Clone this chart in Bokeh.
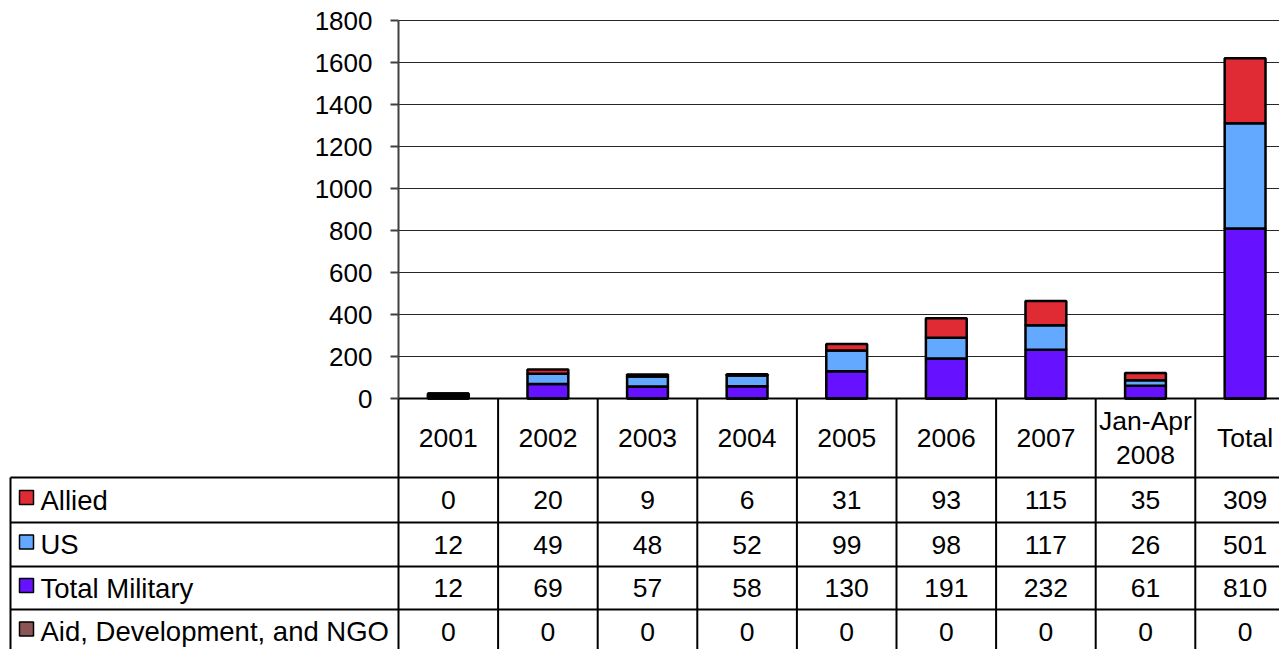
from bokeh.plotting import figure
from bokeh.models import Range1d, LinearAxis, FixedTicker, ColumnDataSource
from bokeh.core.properties import value
from bokeh.embed import file_html
from bokeh.resources import INLINE

# ---- data ----
categories = ["2001", "2002", "2003", "2004", "2005", "2006", "2007", "Jan-Apr\n2008", "Total"]
allied = [0, 20, 9, 6, 31, 93, 115, 35, 309]
us = [12, 49, 48, 52, 99, 98, 117, 26, 501]
total_military = [12, 69, 57, 58, 130, 191, 232, 61, 810]
aid = [0, 0, 0, 0, 0, 0, 0, 0, 0]
series_names = ["Allied", "US", "Total Military", "Aid, Development, and NGO"]
y_ticks = [0, 200, 400, 600, 800, 1000, 1200, 1400, 1600, 1800]

colors = {"Allied": "#E02B35", "US": "#63A9FF", "Total Military": "#6611FF",
          "Aid, Development, and NGO": "#8C5555"}

FONT = value("Liberation Sans")

# ---- layout constants (canvas pixels) ----
W, H = 1279, 649
CW = 99.6          # category width in px
AX = 398           # px of the value axis / first category boundary
TOP = 20           # px of the 1800 gridline
BASE = 398         # px of the zero line
YMAX = 1800
K = YMAX / (BASE - TOP)   # data units per px
HDR_BOT = 477
ROW_LINES = [477, 522, 566, 609, 653]
TBL_LEFT = 10


def X(px):
    return (px - AX) / CW


def Y(py):
    return (BASE - py) * K


n = len(categories)
xs = [i + 0.5 for i in range(n)]

p = figure(width=W, height=H,
           x_range=Range1d(X(0), X(W)), y_range=Range1d(Y(H), Y(0)),
           x_axis_type=None, y_axis_type=None,
           output_backend="svg", toolbar_location=None, min_border=0)
p.outline_line_color = None
p.background_fill_color = "white"
p.border_fill_color = "white"

# gridlines (only over the plot area)
gt = y_ticks[1:]
p.segment(x0=[0] * len(gt), y0=gt, x1=[X(W + 5)] * len(gt), y1=gt,
          line_color="#262626", line_width=1.2)

# value axis at the first category boundary
yax = LinearAxis(ticker=FixedTicker(ticks=y_ticks, minor_ticks=[]),
                 fixed_location=0, bounds=(0, YMAX),
                 major_tick_out=8, major_tick_in=0, minor_tick_out=0, minor_tick_in=0,
                 axis_line_color="#404040", axis_line_width=2,
                 major_tick_line_color="#404040", major_tick_line_width=2,
                 major_label_standoff=18, major_label_text_font="Liberation Sans",
                 major_label_text_font_size="26px", major_label_text_color="black")
p.add_layout(yax, "left")

# stacked columns
src = ColumnDataSource(dict(x=xs, aid=aid, total_military=total_military, us=us, allied=allied))
p.vbar_stack(["aid", "total_military", "us", "allied"], x="x", width=0.41,
             color=[colors["Aid, Development, and NGO"], colors["Total Military"],
                    colors["US"], colors["Allied"]],
             line_color="black", line_width=2.5, source=src)

# ---- data table ----
xl = X(TBL_LEFT)
xr = X(W + 20)
# category axis line
p.segment(x0=[0], y0=[0], x1=[xr], y1=[0], line_color="black", line_width=2)
# horizontal table lines
hl = [Y(v) for v in ROW_LINES[:4]]
p.segment(x0=[xl] * 4, y0=hl, x1=[xr] * 4, y1=hl, line_color="black", line_width=2)
# vertical lines
bx = list(range(n))
p.segment(x0=bx, y0=[0] * n, x1=bx, y1=[Y(H + 10)] * n, line_color="black", line_width=2)
p.segment(x0=[xl], y0=[Y(HDR_BOT)], x1=[xl], y1=[Y(H + 10)], line_color="black", line_width=2)

# header labels
p.text(x=xs, y=[Y((BASE + HDR_BOT) / 2)] * n, text=categories, text_align="center",
       text_baseline="middle", text_font=FONT, text_font_size="26.5px", text_color="black",
       text_line_height=1.15)

rows = [allied, us, total_military, aid]
for r, (name, vals) in enumerate(zip(series_names, rows)):
    yc = (ROW_LINES[r] + ROW_LINES[r + 1]) / 2
    p.text(x=xs, y=[Y(yc)] * n, text=[str(v) for v in vals], text_align="center",
           text_baseline="middle", text_font=FONT, text_font_size="26.5px", text_color="black")
    p.scatter(x=[X(26)], y=[Y(yc - 2.5)], marker="square", size=14,
              fill_color=colors[name], line_color="black", line_width=1.5)
    p.text(x=[X(40)], y=[Y(yc)], text=[name], text_align="left",
           text_baseline="middle", text_font=FONT, text_font_size="27.5px", text_color="black")

open("out.html", "w").write(file_html(p, INLINE))
